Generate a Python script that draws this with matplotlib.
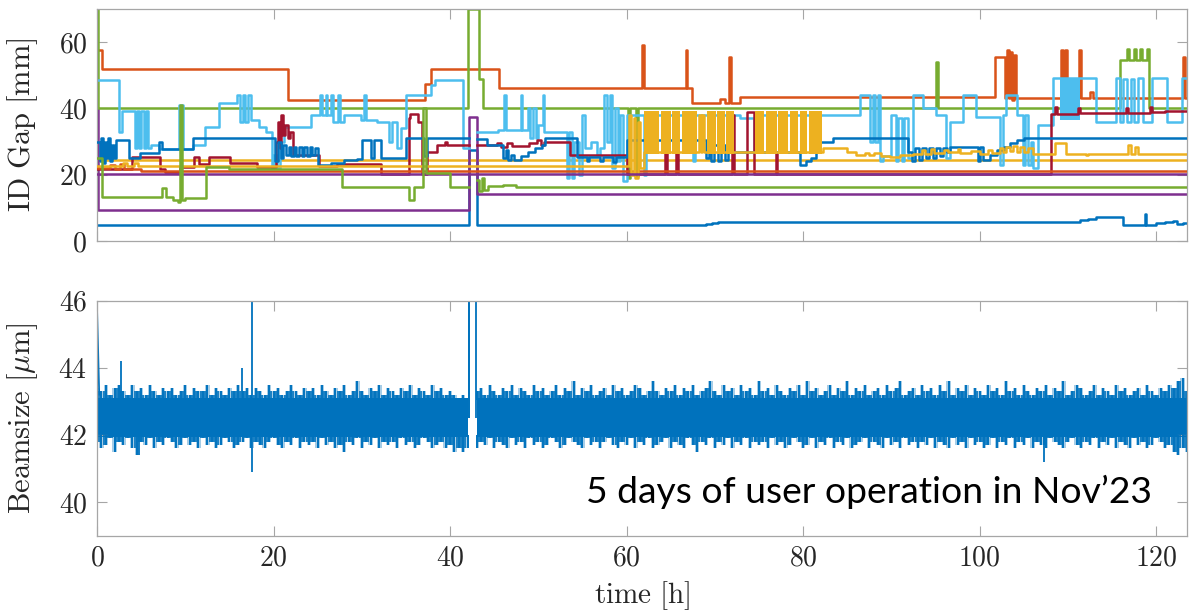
import numpy as np
import matplotlib
matplotlib.use('Agg')
import matplotlib.pyplot as plt

plt.rcParams['mathtext.fontset'] = 'cm'
plt.rcParams['font.family'] = ['cmr10', 'DejaVu Serif']
plt.rcParams['axes.unicode_minus'] = False
plt.rcParams['axes.formatter.use_mathtext'] = True

C_BLUE = '#0072BD'
C_ORANGE = '#D95319'
C_YELLOW = '#EDB120'
C_PURPLE = '#7E2F8E'
C_GREEN = '#77AC30'
C_LBLUE = '#4DBEEE'
C_DRED = '#A2142F'
nan = float('nan')

# ---------------- ID gap series: (time [h], gap [mm]) step points ----------------
b1 = [(0, 4.8), (42.1, 27.4), (43.1, 4.8), (69.0, 5.1), (69.7, 5.4), (70.4, 5.7), (111.4, 6.2),
      (112.3, 6.7), (113.2, 7.1), (114.2, 7.3), (116.3, 4.8), (118.7, 8.0), (118.85, 4.9), (120.0, 5.3),
      (121.0, 5.7), (121.9, 6.0), (122.4, 5.0), (123.0, 5.4), (123.5, 5.4)]
b2 = [(0, 30), (0.3, 24), (0.5, 31), (0.7, 23.5), (0.9, 30), (1.1, 25), (1.3, 31), (1.5, 24), (1.7, 29),
      (1.9, 25), (2.1, 30.4), (3.6, 24.9), (4.9, 26.5), (7.0, 30.0), (7.4, 27.9), (10.9, 31.1), (20.2, 24),
      (20.5, 30), (20.8, 25), (21.1, 29), (21.4, 26), (21.7, 28.5), (22.0, 25.5), (22.3, 28.5), (22.6, 25.5),
      (22.9, 28.5), (23.2, 25.5), (23.5, 28.5), (23.8, 25.5), (24.1, 28.5), (24.4, 26), (24.7, 28),
      (25.0, 23.0), (26.5, 23.5), (28.0, 24.3), (29.5, 24.8), (30.0, 30.5), (31.0, 25.0), (31.4, 30.5),
      (32.2, 25.0), (35.0, 31.2), (37.0, 25.5), (37.4, 31.2), (42.1, nan), (43.1, 30.9), (44.2, 28.9),
      (46.0, 25), (46.3, 27.5), (46.6, 24.5), (46.9, 26), (47.2, 24.5), (48.0, 25.5), (48.8, 26.8),
      (49.6, 28.0), (50.4, 28.9), (50.8, 31.1), (54.4, 25.4), (55.5, 24), (55.8, 25.4), (57.0, 24),
      (57.3, 25.4), (58.5, 23.8), (58.8, 25.4), (60.0, 30.4), (69.0, 25), (69.3, 29), (69.6, 24), (69.9, 29),
      (70.4, 24), (70.7, 29), (71.2, 24.5), (71.5, 27), (79.7, 23), (80.3, 24), (80.9, 25), (81.5, 29.9),
      (83.4, 31.1), (91.9, 27), (92.3, 24), (92.7, 28), (93.1, 24.5), (93.5, 28), (93.9, 25), (94.3, 28),
      (94.7, 25), (95.1, 28), (95.5, 25.5), (95.9, 28), (96.3, 27), (96.6, 28.5), (99.8, 24), (100.1, 28.5),
      (100.4, 24.5), (101.2, 26), (102.0, 27.5), (102.8, 28.5), (103.4, 29.5), (104.2, 30.5), (105.0, 31.1),
      (123.5, 31.1)]
o1 = [(0, 57.5), (0.6, 52.0), (21.6, 42.5), (37.2, 47.5), (37.8, 51.8), (45.5, 46.2), (61.8, 59.0),
      (62.0, 46.2), (66.7, 57.6), (66.9, 46.2), (67.4, 41.5), (70.6, 42.8), (71.1, 41.5), (71.6, 55.6),
      (71.8, 41.5), (72.8, 43.5), (101.7, 55.6), (102.9, 43.0), (103.1, 57.6), (103.3, 43.0), (103.5, 57.0),
      (103.7, 42.5), (103.9, 56.0), (104.1, 43.0), (109.2, 57.6), (109.45, 43.0), (109.65, 57.6),
      (109.85, 43.0), (111.3, 57.6), (111.5, 43.0), (112.5, 45.0), (112.8, 43.0), (123.1, 55.6),
      (123.3, 43.0), (123.5, 43.0)]
o2 = [(0, 22.0), (1.5, 22.8), (2.0, 21.6), (2.6, 23.2), (3.1, 21.6), (5.0, 21.2), (123.5, 21.2)]
y1 = [(0, 24.4), (123.5, 24.4)]
y2 = [(0, 22.6), (3.0, 23.4), (3.4, 22.6), (4.2, 23.6), (4.6, 22.6), (60.3, 38), (60.5, 20), (60.8, 37),
      (61.0, 19), (61.3, 36), (61.5, 22), (62.0, 26.8), (68.2, 38), (68.4, 27), (68.6, 38), (68.8, 27),
      (82.3, 28.0), (85.0, 27.0), (86.0, 26.0), (87.0, 26.5), (87.5, 25.8), (88.0, 26.6), (88.8, 25.5),
      (89.8, 25.2), (91.0, 26.0), (92.5, 26.4), (93.5, 27.5), (93.8, 26.2), (94.5, 27.8), (94.8, 26.5),
      (96.0, 27.5), (96.4, 26.8), (97.5, 27.8), (97.8, 26.5), (99.0, 27.2), (100.0, 26.4), (101.0, 27.5),
      (101.4, 26.5), (102.3, 28.0), (102.6, 27.0), (103.0, 28.4), (103.4, 27.2), (103.8, 28.6), (104.2, 27.0),
      (104.6, 28.5), (105.0, 26.8), (105.5, 28.0), (106.0, 26.3), (108.6, 29.5), (109.8, 26.4), (112.0, 25.8),
      (112.3, 26.4), (116.8, 29.0), (117.2, 26.4), (117.6, 28.5), (118.0, 26.4), (123.5, 26.4)]
# fast gap toggling of the yellow device (h): filled blocks between 26.4 and 39.2 mm
y2_block_start = [62.0, 63.9, 65.2, 66.3, 69.1, 70.3, 71.3, 74.6, 75.8, 77.2, 78.5, 79.6, 80.7]
y2_block_end = [63.7, 65.0, 66.1, 68.0, 70.1, 71.1, 72.2, 75.6, 77.0, 78.3, 79.4, 80.5, 82.1]
y2_block_range = (26.4, 39.2)
p1 = [(0, 40), (0.08, 9.3), (42.1, 37.5), (43.1, 14.3), (123.5, 14.3)]
p2 = [(0, 20.3), (123.5, 20.3)]
g1 = [(0, 70), (0.1, 40), (42.0, 70), (43.3, 49), (43.7, 40), (60.2, 19), (60.35, 40), (61.1, 19.5),
      (61.25, 40), (95.1, 54), (95.25, 40), (115.9, 54.6), (116.7, 58), (116.9, 54.6), (117.5, 58),
      (117.7, 54.6), (118.2, 58), (118.4, 54.6), (119.0, 58), (119.15, 40), (123.5, 40)]
g2 = [(0, 25), (0.6, 13.3), (7.4, 16.0), (7.8, 13.3), (8.6, 12.5), (9.2, 11.8), (9.45, 41), (9.6, 12.5),
      (10.0, 13.0), (12.4, 22.4), (15.0, 21.6), (27.8, 16.3), (35.3, 12.3), (35.9, 16.3), (36.9, 40),
      (37.3, 20.5), (40.0, 16.3), (42.1, nan), (43.0, 18.5), (43.3, 15), (43.6, 19), (43.9, 15.5),
      (44.3, 16.5), (46.0, 16.8), (47.5, 16.3), (123.5, 16.3)]
lb = [(0, 48.5), (2.5, 32.9), (2.8, 39.2), (4.3, 28), (4.5, 39.2), (4.8, 28), (5.0, 39.2), (5.3, 28),
      (5.5, 39.2), (5.8, 28), (6.1, 29), (7.0, 27.9), (9.3, 41), (9.7, 27.9), (10.9, 29), (12.2, 34.4),
      (13.8, 41.5), (15.9, 44), (16.2, 36), (16.5, 44), (16.8, 36), (17.1, 44), (17.4, 36.5), (18.3, 34.4),
      (19.2, 33), (19.8, 22), (20.1, 26), (20.4, 22), (20.7, 30), (21.2, 34.4), (24.2, 38), (25.3, 44),
      (25.5, 38), (25.9, 44), (26.1, 38), (26.5, 44), (26.7, 36), (27.3, 44), (27.5, 36), (28.0, 38),
      (29.9, 36.4), (30.2, 44), (30.5, 36.4), (31.7, 36), (33.1, 30), (33.4, 36), (34.0, 28), (34.4, 34),
      (35.0, 44), (37.8, 47), (38.3, 48.5), (41.5, 28), (42.1, nan), (43.1, 32.9), (45.4, 33.5), (46.1, 44),
      (46.3, 33.5), (48.0, 44), (48.2, 33.5), (48.8, 40), (49.1, 31), (49.4, 40), (49.7, 31), (50.0, 35),
      (50.5, 44), (50.7, 33), (53.2, 19), (53.5, 33), (53.8, 19), (54.1, 30), (54.6, 20), (55.0, 38),
      (55.3, 28), (56.0, 30), (56.6, 26), (57.0, 28), (57.4, 44), (57.8, 30), (58.1, 44), (58.4, 22),
      (58.7, 40), (59.0, 24), (59.3, 38), (59.6, 18), (60.0, 38), (62.0, 20), (62.2, 38), (67.5, 24),
      (67.8, 38), (72.9, 37), (74.4, 27), (74.7, 38), (86.4, 44), (87.6, 30), (87.9, 44), (88.2, 30),
      (88.5, 44), (88.7, 24), (89.0, 25.5), (90.0, 38), (90.5, 24), (90.7, 37), (91.2, 24), (91.4, 37),
      (91.9, 25), (92.5, 44), (93.6, 40), (95.1, 38), (96.2, 25), (96.6, 36), (98.1, 44), (99.6, 37.4),
      (102.3, 23), (102.6, 38), (103.0, 44), (104.2, 38), (104.9, 23), (105.2, 38), (105.5, 23), (105.8, 30),
      (106.0, 22), (106.6, 34.9), (108.3, 49.1), (113.2, 36), (115.5, 49.1), (115.9, 36), (116.3, 49),
      (116.7, 36), (117.1, 49), (117.5, 36), (117.9, 49.1), (118.5, 36), (119.5, 49.1), (121.2, 36),
      (122.9, 49.1), (123.5, 49.1)]
lb_block_start = [109.1]
lb_block_end = [111.4]
lb_block_range = (36.5, 49.1)
dr = [(0, 21.8), (4.0, 25.3), (7.1, 21.8), (7.7, 20.8), (9.4, 22.3), (11.0, 25.3), (11.6, 23.3),
      (12.7, 25.3), (15.1, 23.5), (18.1, 22.3), (20.3, 30), (20.5, 36), (20.7, 28), (20.9, 38), (21.1, 32),
      (21.3, 35), (21.6, 31), (21.9, 33), (22.2, 25.8), (25.1, 22.6), (27.2, 23.3), (32.2, 20.3), (35.3, 37),
      (35.5, 38.4), (36.4, 36), (36.8, 20.3), (37.4, 26.9), (38.5, 28.9), (39.4, 29.8), (39.7, 28.9),
      (42.1, nan), (43.1, 28.9), (45.3, 29.5), (45.8, 28.5), (46.5, 29.5), (47.0, 28.8), (49.0, 29.5),
      (49.8, 30.4), (50.3, 29), (50.6, 30.0), (53.6, 25.9), (60.0, 20.3), (64.4, 27), (64.6, 20.3),
      (65.6, 27), (65.8, 20.3), (72.0, 38), (72.2, 20.3), (73.6, 39), (74.4, 20.3), (76.9, 27), (77.1, 20.3),
      (108.1, 38.3), (108.6, 40.5), (108.8, 38.3), (111.2, 40), (111.4, 38.5), (116.6, 40), (116.8, 38.6),
      (119.3, 40.5), (119.5, 38.8), (121.0, 39.2), (123.5, 39.2)]

# ---------------- Beamsize: envelope of the noisy signal (um) ----------------
band1_t = np.linspace(0.0, 42.0, 85)
band1_hi = [43.4, 43.3, 43.5, 43.2, 43.4, 43.5, 43.3, 43.2, 43.5, 43.3,
            43.4, 43.2, 43.5, 43.3, 43.2, 43.4, 43.3, 43.4, 43.2, 43.3,
            43.5, 43.2, 43.4, 43.3, 43.3, 43.5, 43.2, 43.4, 43.3, 43.2,
            43.4, 43.3, 43.5, 43.3, 43.4, 43.2, 43.4, 43.3, 43.2, 43.5,
            43.3, 43.4, 43.2, 43.3, 43.5, 43.3, 43.2, 43.4, 43.3, 43.4,
            43.2, 43.5, 43.3, 43.2, 43.4, 43.3, 43.5, 43.2, 43.3, 43.6,
            43.3, 43.2, 43.4, 43.3, 43.5, 43.2, 43.4, 43.3, 43.2, 43.4,
            43.3, 43.5, 43.2, 43.4, 43.3, 43.2, 43.5, 43.3, 43.4, 43.2,
            43.3, 43.2, 43.1, 43.2, 43.1]
band1_lo = [41.8, 41.6, 41.7, 41.9, 41.5, 41.8, 41.7, 41.9, 41.6, 41.4,
            41.8, 41.7, 41.9, 41.6, 41.8, 41.7, 41.9, 41.8, 41.6, 41.7,
            41.9, 41.7, 41.8, 41.6, 41.9, 41.7, 41.8, 41.6, 41.7, 41.9,
            41.8, 41.6, 41.7, 41.8, 41.9, 41.6, 41.8, 41.7, 41.6, 41.8,
            41.9, 41.7, 41.6, 41.8, 41.7, 41.9, 41.6, 41.8, 41.7, 41.8,
            41.6, 41.9, 41.7, 41.8, 41.6, 41.7, 41.5, 41.8, 41.7, 41.9,
            41.6, 41.8, 41.7, 41.9, 41.6, 41.8, 41.7, 41.8, 41.6, 41.9,
            41.7, 41.8, 41.6, 41.7, 41.9, 41.8, 41.6, 41.7, 41.8, 41.6,
            41.7, 41.5, 41.6, 41.5, 41.6]
band2_t = np.linspace(43.0, 123.5, 162)
band2_hi = [43.3, 43.4, 43.2, 43.5, 43.3, 43.2, 43.4, 43.3, 43.5, 43.2,
            43.4, 43.3, 43.2, 43.5, 43.3, 43.4, 43.2, 43.3, 43.5, 43.2,
            43.4, 43.3, 43.6, 43.2, 43.4, 43.3, 43.5, 43.2, 43.3, 43.4,
            43.2, 43.5, 43.3, 43.4, 43.2, 43.3, 43.5, 43.4, 43.2, 43.3,
            43.6, 43.3, 43.2, 43.4, 43.3, 43.5, 43.2, 43.4, 43.3, 43.5,
            43.2, 43.3, 43.4, 43.6, 43.3, 43.2, 43.5, 43.3, 43.4, 43.2,
            43.5, 43.3, 43.4, 43.2, 43.6, 43.3, 43.4, 43.2, 43.5, 43.3,
            43.2, 43.4, 43.3, 43.5, 43.2, 43.6, 43.3, 43.4, 43.2, 43.3,
            43.5, 43.2, 43.4, 43.3, 43.6, 43.2, 43.4, 43.3, 43.5, 43.2,
            43.3, 43.4, 43.2, 43.5, 43.3, 43.4, 43.6, 43.2, 43.3, 43.4,
            43.2, 43.5, 43.3, 43.4, 43.2, 43.5, 43.3, 43.6, 43.2, 43.4,
            43.3, 43.5, 43.2, 43.4, 43.3, 43.2, 43.5, 43.3, 43.4, 43.2,
            43.6, 43.3, 43.4, 43.2, 43.5, 43.3, 43.2, 43.4, 43.3, 43.5,
            43.2, 43.4, 43.3, 43.6, 43.2, 43.3, 43.5, 43.4, 43.2, 43.3,
            43.5, 43.2, 43.4, 43.3, 43.2, 43.5, 43.3, 43.4, 43.2, 43.3,
            43.4, 43.2, 43.5, 43.3, 43.2, 43.4, 43.3, 43.5, 43.4, 43.6,
            43.7, 43.3]
band2_lo = [41.6, 41.8, 41.7, 41.9, 41.6, 41.8, 41.7, 41.6, 41.9, 41.7,
            41.8, 41.6, 41.9, 41.7, 41.8, 41.6, 41.7, 41.9, 41.8, 41.6,
            41.7, 41.9, 41.8, 41.7, 41.6, 41.9, 41.7, 41.8, 41.6, 41.8,
            41.9, 41.7, 41.6, 41.8, 41.7, 41.9, 41.6, 41.8, 41.7, 41.9,
            41.6, 41.7, 41.8, 41.9, 41.6, 41.8, 41.7, 41.6, 41.9, 41.7,
            41.5, 41.8, 41.7, 41.9, 41.6, 41.8, 41.7, 41.9, 41.6, 41.8,
            41.7, 41.9, 41.6, 41.8, 41.7, 41.8, 41.6, 41.9, 41.7, 41.8,
            41.6, 41.7, 41.9, 41.8, 41.6, 41.7, 41.9, 41.6, 41.8, 41.7,
            41.9, 41.6, 41.8, 41.7, 41.9, 41.6, 41.7, 41.8, 41.9, 41.6,
            41.8, 41.7, 41.6, 41.9, 41.7, 41.8, 41.6, 41.9, 41.7, 41.8,
            41.6, 41.8, 41.7, 41.9, 41.6, 41.8, 41.7, 41.6, 41.9, 41.7,
            41.8, 41.6, 41.9, 41.7, 41.8, 41.6, 41.7, 41.9, 41.6, 41.8,
            41.7, 41.9, 41.6, 41.8, 41.7, 41.9, 41.6, 41.8, 41.7, 41.6,
            41.9, 41.8, 41.7, 41.6, 41.8, 41.9, 41.7, 41.6, 41.8, 41.7,
            41.9, 41.6, 41.8, 41.7, 41.9, 41.6, 41.8, 41.7, 41.6, 41.9,
            41.7, 41.8, 41.6, 41.7, 41.9, 41.8, 41.6, 41.7, 41.5, 41.4,
            41.6, 41.5]
band_core = (41.95, 43.1)
spike_up_t = [0.02, 2.7, 16.4, 17.6, 42.1, 42.2, 42.95]
spike_up_v = [45.8, 44.2, 44.0, 46.5, 46.5, 46.5, 46.5]
spike_dn_t = [4.8, 17.6, 107.3]
spike_dn_v = [41.4, 40.9, 41.2]

XMAX = 123.5

# ---------------- figure ----------------
W, H = 1189, 611
fig = plt.figure(figsize=(W / 100, H / 100), dpi=100)
L, R = 97 / W, 1187 / W
ax1 = fig.add_axes([L, 1 - 241 / H, R - L, (241 - 9) / H])
ax2 = fig.add_axes([L, 1 - 535.5 / H, R - L, (535.5 - 300.7) / H])

LW = 1.8
order = [(b1, C_BLUE), (o1, C_ORANGE), (y1, C_YELLOW), (p1, C_PURPLE), (g1, C_GREEN),
         (lb, C_LBLUE), (dr, C_DRED), (b2, C_BLUE), (o2, C_ORANGE), (y2, C_YELLOW),
         (p2, C_PURPLE), (g2, C_GREEN)]
for z, (pts, col) in enumerate(order):
    t = [p[0] for p in pts]
    v = [p[1] for p in pts]
    ax1.step(t, v, where='post', color=col, lw=LW, zorder=2 + z * 0.1)
    if pts is lb:
        for s, e in zip(lb_block_start, lb_block_end):
            ax1.fill_between([s, e], lb_block_range[0], lb_block_range[1], color=C_LBLUE, lw=0,
                             zorder=2 + z * 0.1)
    if pts is y2:
        for s, e in zip(y2_block_start, y2_block_end):
            ax1.fill_between([s, e], y2_block_range[0], y2_block_range[1], color=C_YELLOW, lw=0,
                             zorder=2 + z * 0.1)

# beamsize: dense core plus thin excursions to the envelope
for bt, bh, bl in [(band1_t, band1_hi, band1_lo), (band2_t, band2_hi, band2_lo)]:
    ax2.fill_between([bt[0], bt[-1]], band_core[0], band_core[1], color=C_BLUE, lw=0)
    ax2.fill_between(bt, bl, bh, step='mid', color=C_BLUE, lw=0, alpha=0.35)
    ax2.vlines(bt, band_core[1] - 0.05, bh, color=C_BLUE, lw=1.4)
    ax2.vlines(bt, bl, band_core[0] + 0.05, color=C_BLUE, lw=1.4)
    ax2.vlines(bt[:-1] + 0.25, band_core[1] - 0.05, np.minimum(bh[:-1], bh[1:]), color=C_BLUE, lw=1.2)
    ax2.vlines(bt[:-1] + 0.25, np.maximum(bl[:-1], bl[1:]), band_core[0] + 0.05, color=C_BLUE, lw=1.2)
ax2.vlines(spike_up_t, 42.5, spike_up_v, color=C_BLUE, lw=1.3)
ax2.vlines(spike_dn_t, spike_dn_v, 42.0, color=C_BLUE, lw=1.3)
ax2.plot([0.0, 0.25], [45.8, 43.2], color=C_BLUE, lw=1.3)

SPINE = '#a6a6a6'
TXT = '#262626'
for ax in (ax1, ax2):
    ax.set_xlim(0, XMAX)
    ax.set_xticks([0, 20, 40, 60, 80, 100, 120])
    ax.tick_params(direction='in', length=7, width=0.8, color=SPINE, labelcolor=TXT,
                   labelsize=20, top=True, right=True, pad=7)
    for sp in ax.spines.values():
        sp.set_color(SPINE)
        sp.set_linewidth(0.9)
ax1.set_ylim(0, 70)
ax1.set_yticks([0, 20, 40, 60])
ax1.tick_params(labelbottom=False)
ax2.set_ylim(39, 46)
ax2.set_yticks([40, 42, 44, 46])

ax1.set_ylabel(r'$\mathrm{ID\ Gap\ [mm]}$', fontsize=22, color=TXT)
ax2.set_ylabel(r'$\mathrm{Beamsize\ [}\mu\mathrm{m]}$', fontsize=22, color=TXT)
ax2.set_xlabel(r'$\mathrm{time\ [h]}$', fontsize=21, color=TXT)
ax1.yaxis.set_label_coords(-0.052, 0.5)
ax2.yaxis.set_label_coords(-0.052, 0.5)
ax2.xaxis.set_label_coords(0.5, -0.185)

label = '5 days of user operation in Nov\u201923'
txt = fig.text(1152 / W, 1 - 503 / H, label, ha='right', va='baseline', fontsize=24,
               family=['Lato', 'DejaVu Sans'], color='black')
fig.canvas.draw()
bb = txt.get_window_extent()
txt.set_fontsize(24 * 567 / bb.width)

fig.savefig('out.png', dpi=100)
